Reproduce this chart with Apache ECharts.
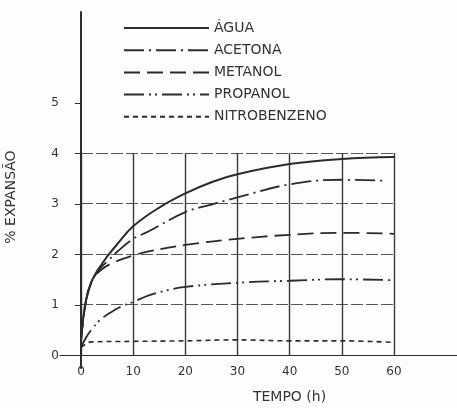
<!DOCTYPE html>
<html>
<head>
<meta charset="utf-8">
<script src="https://cdn.jsdelivr.net/npm/echarts@6/dist/echarts.min.js"></script>
<style>
  html, body { margin: 0; padding: 0; background: #fdfdfc; }
  #chart { width: 457px; height: 408px; }
</style>
</head>
<body>
<div id="chart"></div>
<script>
var chart = echarts.init(document.getElementById("chart"));

// dados (tempo em h, expansão em %)
var tAgua = [0, 0.5, 1, 2, 3, 4, 5, 7, 10, 15, 20, 25, 30, 40, 50, 60];
var agua = [0.3, 0.8, 1.1, 1.45, 1.65, 1.8, 1.95, 2.2, 2.55, 2.92, 3.2, 3.42, 3.58, 3.78, 3.88, 3.92];

var tAcetona = [0, 1, 2, 3, 4, 5, 7, 10, 13, 20, 25, 30, 40, 50, 58];
var acetona = [0.3, 1.1, 1.45, 1.62, 1.75, 1.85, 2.05, 2.3, 2.45, 2.83, 2.98, 3.12, 3.38, 3.47, 3.45];

var tMetanol = [0, 1, 2, 3, 4, 6, 10, 13, 20, 30, 40, 50, 60];
var metanol = [0.3, 1.1, 1.45, 1.6, 1.7, 1.82, 1.97, 2.05, 2.18, 2.3, 2.38, 2.42, 2.4];

var tPropanol = [0, 1, 2, 3.6, 5.5, 7.5, 10, 13, 16, 20, 30, 40, 50, 60];
var propanol = [0.15, 0.35, 0.5, 0.69, 0.83, 0.95, 1.05, 1.18, 1.27, 1.35, 1.43, 1.47, 1.5, 1.48];

var tNitro = [0, 1, 2, 10, 20, 30, 40, 50, 60];
var nitro = [0.15, 0.22, 0.26, 0.27, 0.28, 0.3, 0.28, 0.28, 0.25];

var yTicks = [0, 1, 2, 3, 4, 5];

function pares(xs, ys) {
    return xs.map(function (x, i) { return [x, ys[i]]; });
}

var tinta = '#2b2b2b';
var fonte = 'DejaVu Sans';

function serie(nome, xs, ys, tipo, largura) {
    return {
        name: nome,
        type: 'line',
        xAxisIndex: 1,
        yAxisIndex: 1,
        data: pares(xs, ys),
        smooth: 0.4,
        symbol: 'none',
        showSymbol: false,
        lineStyle: { color: tinta, width: largura, type: tipo },
        itemStyle: { color: tinta }
    };
}

var option = {
    backgroundColor: '#fdfdfc',
    animation: false,
    legend: {
        orient: 'vertical',
        left: 118,
        top: 16,
        itemWidth: 85,
        itemHeight: 14,
        itemGap: 8.2,
        itemStyle: { opacity: 0 },
        textStyle: { color: '#333', fontSize: 14, fontFamily: fonte },
        data: ['ÁGUA', 'ACETONA', 'METANOL', 'PROPANOL', 'NITROBENZENO']
    },
    grid: [
        // moldura: eixos que passam pela origem
        { left: 60, right: 0, top: 12, bottom: 40, outerBoundsMode: 'none', containLabel: false },
        // área quadriculada 0-60 h, 0-4 %
        { left: 81, width: 313, top: 153, bottom: 53, outerBoundsMode: 'none', containLabel: false }
    ],
    xAxis: [
        {
            gridIndex: 0, type: 'value', min: -4, max: 72,
            axisLine: { onZero: true, lineStyle: { color: tinta, width: 1.2 } },
            axisTick: { show: false },
            axisLabel: { show: false },
            splitLine: { show: false },
            name: 'TEMPO (h)',
            nameLocation: 'middle',
            nameGap: 22,
            nameTextStyle: { color: '#333', fontSize: 14, fontFamily: fonte, padding: [0, 0, 0, 62] }
        },
        {
            gridIndex: 1, type: 'value', min: 0, max: 60, interval: 10,
            axisLine: { show: false },
            axisTick: { show: false },
            axisLabel: { color: '#333', fontSize: 12, fontFamily: fonte, margin: 11 },
            splitLine: { show: true, lineStyle: { color: '#3a3a3a', width: 1.4 } }
        }
    ],
    yAxis: [
        {
            gridIndex: 0, type: 'value', min: -0.25, max: 6.8,
            axisLine: { onZero: true, lineStyle: { color: tinta, width: 2 } },
            axisTick: { show: true, customValues: yTicks, length: 6, lineStyle: { color: tinta } },
            axisLabel: { customValues: yTicks, color: '#333', fontSize: 12, fontFamily: fonte, margin: 1 },
            splitLine: { show: false },
            name: '% EXPANSÃO',
            nameLocation: 'middle',
            nameGap: 42,
            nameTextStyle: { color: '#333', fontSize: 14, fontFamily: fonte, padding: [0, 14, 0, 0] }
        },
        {
            gridIndex: 1, type: 'value', min: 0, max: 4, interval: 1,
            axisLine: { show: false },
            axisTick: { show: false },
            axisLabel: { show: false },
            splitLine: { show: true, lineStyle: { color: '#555', width: 1, type: [12, 3] } }
        }
    ],
    series: [
        serie('ÁGUA', tAgua, agua, 'solid', 2),
        serie('ACETONA', tAcetona, acetona, [20, 5, 2, 5], 1.8),
        serie('METANOL', tMetanol, metanol, [16, 7], 1.8),
        serie('PROPANOL', tPropanol, propanol, [20, 5, 2, 4, 2, 5], 1.8),
        serie('NITROBENZENO', tNitro, nitro, [5, 4], 1.6)
    ]
};

chart.setOption(option);
</script>
</body>
</html>
